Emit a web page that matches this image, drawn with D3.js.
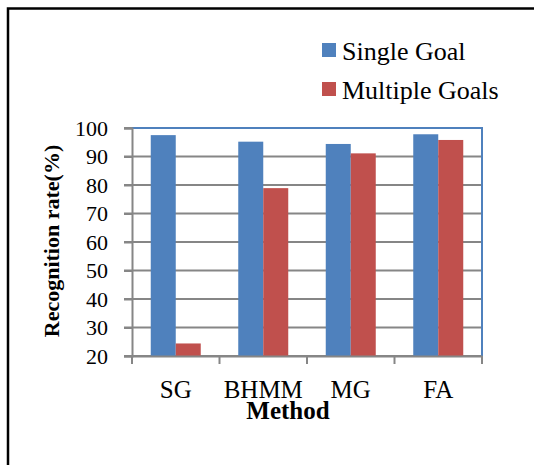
<!DOCTYPE html>
<html><head><meta charset="utf-8">
<script src="https://cdn.jsdelivr.net/npm/d3@7/dist/d3.min.js"></script>
<style>body{margin:0;background:#fff}svg{display:block}
text{font-family:"Liberation Serif","DejaVu Serif",serif;}</style>
</head><body><svg id="c" width="534" height="465"></svg>
<script>
const categories = ["SG", "BHMM", "MG", "FA"];
const seriesNames = ["Single Goal", "Multiple Goals"];
const singleGoal = [97.5, 95.2, 94.4, 97.8];
const multipleGoals = [24.4, 78.9, 91.1, 95.8];
const yTicks = [20, 30, 40, 50, 60, 70, 80, 90, 100];
const colors = ["#4F81BD", "#C0504D"];

const svg = d3.select("#c");
const ff = '"Liberation Serif","DejaVu Serif",serif';
// outer frame
svg.append("rect").attr("x", 8).attr("y", 8.5).attr("width", 540).attr("height", 470)
  .attr("fill", "none").attr("stroke", "#000").attr("stroke-width", 2.5);

const L = 132, R = 482, T = 128, B = 356;
const x = d3.scaleBand().domain(categories).range([L, R]);
const y = d3.scaleLinear().domain([20, 100]).range([B, T]);
const inner = d3.scaleBand().domain(seriesNames).range([0, x.bandwidth()]).paddingInner(0).paddingOuter(0.75);

// gridlines
svg.append("g").selectAll("line").data(yTicks).join("line")
  .attr("x1", L - 8).attr("x2", R).attr("y1", d => y(d)).attr("y2", d => y(d))
  .attr("stroke", "#868686").attr("stroke-width", 2);

// plot border top/right
svg.append("path").attr("d", `M${L},${T}H${R}V${B}`).attr("fill", "none")
  .attr("stroke", "#4F81BD").attr("stroke-width", 2);

const data = categories.map((c, i) => ({c, v: [singleGoal[i], multipleGoals[i]]}));
const g = svg.append("g").selectAll("g").data(data).join("g")
  .attr("transform", d => `translate(${x(d.c)},0)`);
g.selectAll("rect").data(d => d.v.map((v, j) => ({v, s: seriesNames[j], j}))).join("rect")
  .attr("x", d => inner(d.s)).attr("width", inner.bandwidth())
  .attr("y", d => y(d.v)).attr("height", d => y(20) - y(d.v))
  .attr("fill", d => colors[d.j]);

// y axis
const ya = svg.append("g").attr("transform", `translate(${L},0)`)
  .call(d3.axisLeft(y).tickValues(yTicks).tickSize(8).tickPadding(16));
ya.attr("font-family", null);
ya.select(".domain").attr("stroke", "#868686").attr("stroke-width", 2);
ya.selectAll("line").attr("stroke", "#868686").attr("stroke-width", 2);
ya.selectAll("text").style("font-family", ff).attr("font-size", 22).attr("fill", "#000").attr("dy", "0.34em");

// x axis
const xa = svg.append("g").attr("transform", `translate(0,${B})`)
  .call(d3.axisBottom(x).tickSize(0).tickPadding(24));
xa.attr("font-family", null);
xa.select(".domain").attr("stroke", "#868686").attr("stroke-width", 2);
xa.selectAll("text").style("font-family", ff).attr("font-size", 25).attr("fill", "#000");
// category boundary ticks
svg.append("g").selectAll("line").data(categories.map(c => x(c)).concat([R])).join("line")
  .attr("x1", d => d).attr("x2", d => d).attr("y1", B).attr("y2", B + 8)
  .attr("stroke", "#868686").attr("stroke-width", 2);

// titles
svg.append("text").attr("x", 288).attr("y", 419).attr("text-anchor", "middle")
  .style("font-family", ff).attr("font-weight", "bold").attr("font-size", 25).text("Method");
svg.append("text").attr("transform", "translate(59,241) rotate(-90)").attr("text-anchor", "middle")
  .style("font-family", ff).attr("font-weight", "bold").attr("font-size", 22).text("Recognition rate(%)");

// legend
const lg = svg.append("g").selectAll("g").data(seriesNames).join("g")
  .attr("transform", (d, i) => `translate(322,${43 + i * 39})`);
lg.append("rect").attr("width", 14).attr("height", 14).attr("fill", (d, i) => colors[i]);
lg.append("text").attr("x", 20).attr("y", 17).style("font-family", ff).attr("font-size", 26).text(d => d);
</script></body></html>
